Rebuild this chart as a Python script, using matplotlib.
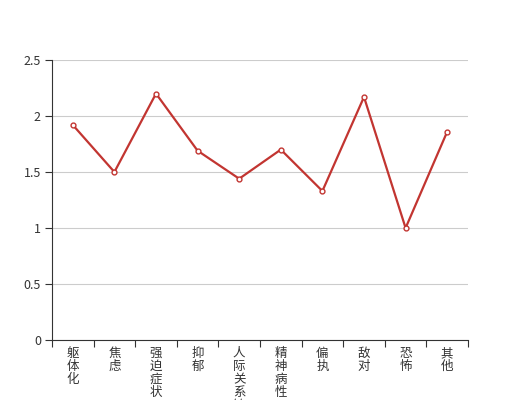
import matplotlib
matplotlib.use("Agg")
import matplotlib.pyplot as plt

plt.rcParams['font.family'] = ['Noto Sans CJK SC', 'DejaVu Sans']

# dados
categorias = ['躯体化', '焦虑', '强迫症状', '抑郁', '人际关系敏感',
              '精神病性', '偏执', '敌对', '恐怖', '其他']
valores = [1.92, 1.50, 2.20, 1.69, 1.44, 1.70, 1.33, 2.17, 1.00, 1.86]
yticks = [0, 0.5, 1, 1.5, 2, 2.5]

fig = plt.figure(figsize=(5.2, 4), dpi=100)
ax = fig.add_axes([0.1, 0.15, 0.8, 0.7])

x = list(range(len(categorias)))
ax.plot(x, valores, color='#c23531', linewidth=1.6, marker='o',
        markersize=3.5, markerfacecolor='white', markeredgecolor='#c23531',
        markeredgewidth=1, zorder=3)

ax.set_xlim(-0.5, len(categorias) - 0.5)
ax.set_ylim(0, 2.5)
ax.set_yticks(yticks)
ax.set_yticklabels(['0', '0.5', '1', '1.5', '2', '2.5'])
ax.yaxis.grid(True, color='#cccccc', linewidth=0.8)
ax.set_axisbelow(True)

# rotulos verticais (um caractere por linha)
ax.set_xticks(x)
ax.set_xticklabels(['\n'.join(c) for c in categorias], linespacing=1.0,
                   va='top')
ax.tick_params(axis='x', length=0, pad=5, labelsize=9, labelcolor='#333333')
ax.set_xticks([i - 0.5 for i in range(len(categorias) + 1)], minor=True)
ax.tick_params(axis='x', which='minor', length=5, color='#333333', width=0.8)
ax.tick_params(axis='y', length=5, color='#333333', width=0.8,
               labelsize=9, labelcolor='#333333', pad=3)

for lado in ['top', 'right']:
    ax.spines[lado].set_visible(False)
for lado in ['left', 'bottom']:
    ax.spines[lado].set_color('#333333')
    ax.spines[lado].set_linewidth(0.8)

fig.savefig('out.png', dpi=100)
